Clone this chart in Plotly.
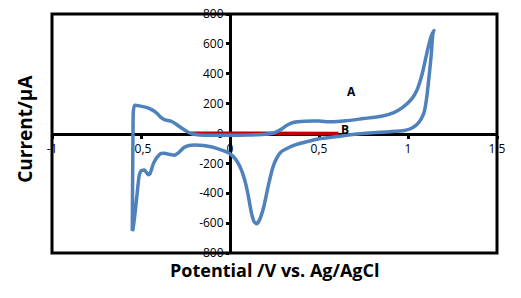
import plotly.graph_objects as go

# Cyclic voltammogram A (blue), forward then reverse sweep
potential_a = [-0.549, -0.547, -0.545, -0.543, -0.535, -0.51, -0.47, -0.44, -0.41, -0.39, -0.365,
               -0.33, -0.30, -0.27, -0.24, -0.21, -0.17, -0.1, 0.0, 0.1, 0.2, 0.25, 0.29, 0.32,
               0.36, 0.42, 0.5, 0.57, 0.65, 0.75, 0.85, 0.92, 0.97, 1.02, 1.05, 1.08, 1.11, 1.13,
               1.145,
               1.14, 1.13, 1.12, 1.105, 1.09, 1.075, 1.05, 1.02, 0.98, 0.9, 0.8, 0.7, 0.6, 0.5,
               0.43, 0.37, 0.32, 0.285, 0.26, 0.24, 0.215, 0.19, 0.165, 0.15, 0.135, 0.12, 0.1,
               0.08, 0.055, 0.03, 0.0, -0.05, -0.1, -0.15, -0.2, -0.23, -0.26, -0.29, -0.31,
               -0.34, -0.37, -0.39, -0.41, -0.43, -0.45, -0.46, -0.48, -0.5, -0.51, -0.525,
               -0.538, -0.547]
current_a = [-650, -300, 0, 150, 190, 185, 175, 160, 135, 110, 92,
             82, 60, 35, 12, -3, -10, -12, -12, -10, -5, 5, 30, 55,
             75, 82, 83, 78, 85, 100, 115, 140, 175, 230, 290, 400, 560, 650,
             690,
             670, 520, 400, 240, 140, 100, 60, 35, 20, 12, 5, -5, -20, -35,
             -55, -75, -100, -125, -170, -230, -350, -490, -580, -605, -590, -530, -400,
             -300, -220, -170, -135, -110, -90, -80, -77, -80, -95, -130, -145,
             -140, -133, -135, -160, -200, -270, -275, -245, -250, -280, -440,
             -580, -655]

# Curve B (red)
potential_b = [-0.22, 0.61]
current_b = [2, 0]

x_tickvals = [-1, -0.5, 0, 0.5, 1, 1.5]
x_ticktext = ["-1", "-0,5", "0", "0,5", "1", "1,5"]
y_tickvals = [-800, -600, -400, -200, 0, 200, 400, 600, 800]
y_ticktext = ["-800", "-600", "-400", "-200", "0", "200", "400", "600", "800"]

FONT = "Open Sans"

fig = go.Figure()
fig.add_trace(go.Scatter(x=potential_b, y=current_b, mode="lines",
                         line=dict(color="#C00000", width=3.5), showlegend=False))
fig.add_trace(go.Scatter(x=potential_a, y=current_a, mode="lines",
                         line=dict(color="#4F81BD", width=3.5, shape="spline", smoothing=0.5),
                         showlegend=False))

fig.update_layout(
    width=521, height=298,
    margin=dict(l=52, r=24, t=14, b=45, autoexpand=False),
    paper_bgcolor="white", plot_bgcolor="white",
    font=dict(family=FONT, size=12, color="black"),
    xaxis=dict(range=[-1, 1.5], tickvals=x_tickvals, ticktext=x_ticktext,
               anchor="free", position=0.5, showline=True, linecolor="black", linewidth=3,
               ticks="outside", ticklen=3, tickwidth=3, tickcolor="black",
               showgrid=False, zeroline=False, layer="below traces", automargin=False,
               tickfont=dict(family=FONT, size=12, color="black")),
    yaxis=dict(range=[-800, 800], tickvals=y_tickvals, ticktext=y_ticktext,
               anchor="free", position=0.4, showline=True, linecolor="black", linewidth=3,
               ticks="outside", ticklen=3, tickwidth=3, tickcolor="black",
               showgrid=False, zeroline=False, layer="below traces", automargin=False,
               tickfont=dict(family=FONT, size=12, color="black")),
    shapes=[dict(type="rect", xref="paper", yref="paper", x0=0, x1=1, y0=0, y1=1,
                 line=dict(color="black", width=3), layer="above")],
    annotations=[
        dict(text="<b>Current/μA</b>", xref="paper", yref="paper", x=-0.061, y=0.519,
             xanchor="center", yanchor="middle",
             textangle=-90, showarrow=False, font=dict(family=FONT, size=19, color="black")),
        dict(text="<b>Potential /V vs. Ag/AgCl</b>", xref="paper", yref="paper", x=0.501, y=-0.071,
             xanchor="center", yanchor="middle",
             showarrow=False, font=dict(family=FONT, size=18, color="black")),
        dict(text="<b>A</b>", x=0.685, y=278, xref="x", yref="y", showarrow=False,
             font=dict(family=FONT, size=12, color="black")),
        dict(text="<b>B</b>", x=0.646, y=30, xref="x", yref="y", showarrow=False,
             font=dict(family=FONT, size=12, color="black")),
    ],
)

fig.write_html("out.html", config={"displayModeBar": False},
               post_script="document.body.style.margin='0';document.body.style.overflow='hidden';")
